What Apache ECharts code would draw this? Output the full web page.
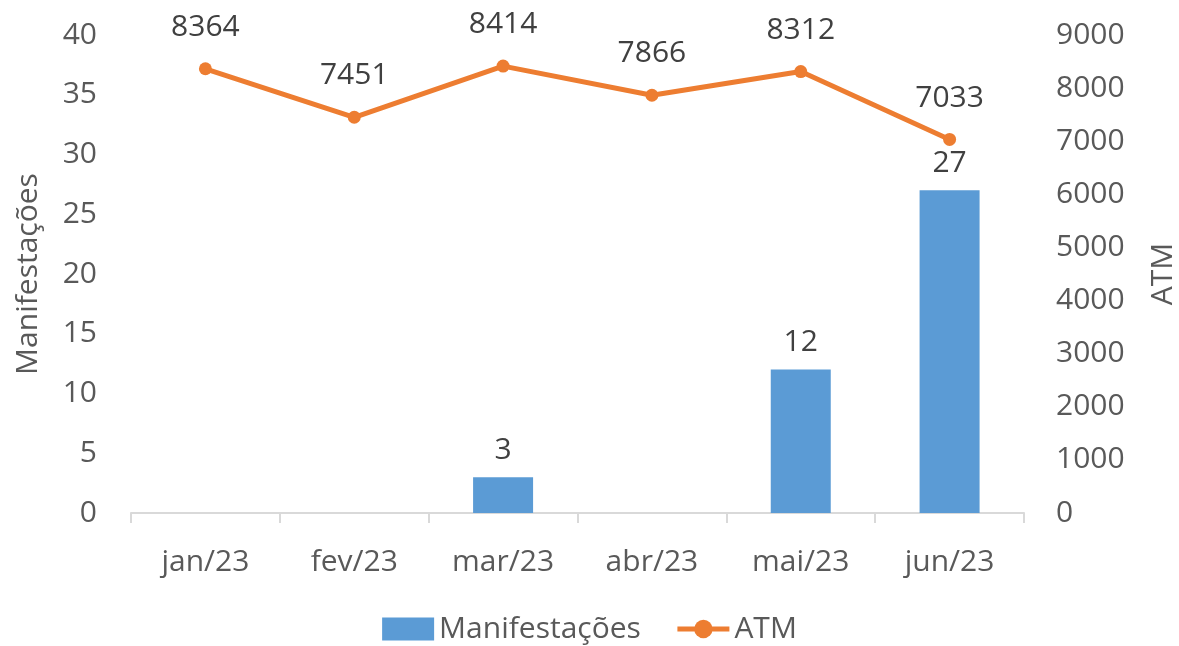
<!DOCTYPE html>
<html><head><meta charset="utf-8">
<script src="https://cdn.jsdelivr.net/npm/echarts@6/dist/echarts.min.js"></script>
<style>html,body{margin:0;padding:0;background:#fff}#c{width:1179px;height:646px}</style>
</head><body><div id="c"></div>
<script>
const categories = ['jan/23','fev/23','mar/23','abr/23','mai/23','jun/23'];
const manifestacoes = [null, null, 3, null, 12, 27];
const atm = [8364, 7451, 8414, 7866, 8312, 7033];

const FONT = '"Open Sans", "Noto Sans", sans-serif';
const TXT = '#595959';
const FS = 30;
const chart = echarts.init(document.getElementById('c'));
chart.setOption({
  animation: false,
  textStyle: { fontFamily: FONT },
  grid: { left: 131, right: 155, top: 35, bottom: 133, outerBoundsMode: 'none', containLabel: false },
  legend: {
    top: 609, left: 'center', itemGap: 34,
    itemWidth: 52, itemHeight: 23,
    textStyle: { fontSize: FS, color: TXT, fontFamily: FONT },
    data: [{ name: 'Manifestações', icon: 'rect' }, { name: 'ATM', lineStyle: { width: 5 } }]
  },
  xAxis: {
    type: 'category', data: categories,
    axisLine: { lineStyle: { color: '#d9d9d9', width: 2 } },
    axisTick: { show: true, length: 10, lineStyle: { color: '#d9d9d9', width: 2 } },
    axisLabel: { fontSize: FS, color: TXT, margin: 34, fontFamily: FONT }
  },
  yAxis: [{
    type: 'value', min: 0, max: 40, interval: 5, position: 'left',
    name: 'Manifestações', nameLocation: 'middle', nameGap: 88, nameRotate: 90,
    nameTextStyle: { fontSize: FS, color: TXT, fontFamily: FONT },
    splitLine: { show: false }, axisLine: { show: false }, axisTick: { show: false },
    axisLabel: { fontSize: FS, color: TXT, margin: 34, fontFamily: FONT }
  }, {
    type: 'value', min: 0, max: 9000, interval: 1000, position: 'right',
    name: 'ATM', nameLocation: 'middle', nameGap: 124, nameRotate: 90,
    nameTextStyle: { fontSize: FS, color: TXT, fontFamily: FONT },
    splitLine: { show: false }, axisLine: { show: false }, axisTick: { show: false },
    axisLabel: { fontSize: FS, color: TXT, margin: 32, fontFamily: FONT, formatter: v => String(v) }
  }],
  series: [{
    name: 'Manifestações', type: 'bar', yAxisIndex: 0, data: manifestacoes,
    barWidth: 60, itemStyle: { color: '#5b9bd5' },
    label: { show: true, position: 'top', distance: 12, fontSize: FS, color: '#404040', fontFamily: FONT }
  }, {
    name: 'ATM', type: 'line', yAxisIndex: 1, data: atm,
    symbol: 'circle', symbolSize: 13,
    lineStyle: { color: '#ed7d31', width: 5 }, itemStyle: { color: '#ed7d31' },
    label: { show: true, position: 'top', distance: 20, fontSize: FS, color: '#404040', fontFamily: FONT }
  }]
});
</script></body></html>
